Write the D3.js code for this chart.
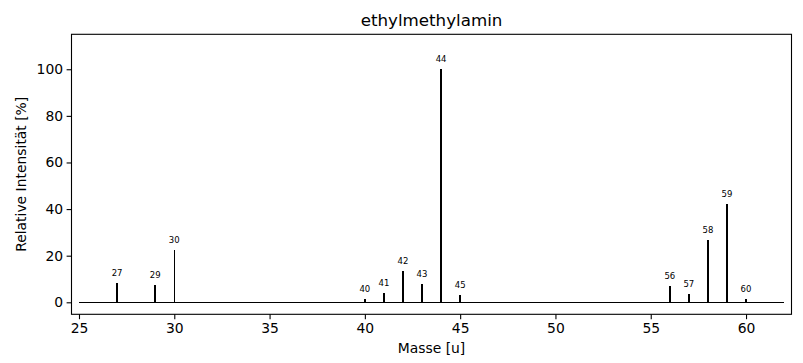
<!DOCTYPE html>
<html>
<head>
<meta charset="utf-8">
<script src="https://cdn.jsdelivr.net/npm/d3@7"></script>
<style>
  body { margin: 0; background: #fff; }
  text { font-family: "DejaVu Sans", sans-serif; fill: #000; }
</style>
</head>
<body>
<svg id="chart" width="803" height="363"></svg>
<script>
const title = "ethylmethylamin";
const xLabel = "Masse [u]";
const yLabel = "Relative Intensität [%]";
const masses = [27, 29, 30, 40, 41, 42, 43, 44, 45, 56, 57, 58, 59, 60];
const intensities = [8.2, 7.3, 22.3, 1.6, 4.0, 13.3, 7.9, 100, 3.0, 6.9, 3.4, 26.6, 42.1, 1.4];
const baselineRange = [25, 62];
const xTicks = [25, 30, 35, 40, 45, 50, 55, 60];
const yTicks = [0, 20, 40, 60, 80, 100];
const xDomain = [24.607, 62.386];
const yDomain = [-5.15, 115];

const svg = d3.select("#chart");
const m = { left: 71.5, top: 34.3, width: 720, height: 280 };
const g = svg.append("g").attr("transform", `translate(${m.left},${m.top})`);

const x = d3.scaleLinear().domain(xDomain).range([0, m.width]);
const y = d3.scaleLinear().domain(yDomain).range([m.height, 0]);

// baseline
g.append("line")
  .attr("x1", x(baselineRange[0])).attr("x2", x(baselineRange[1]))
  .attr("y1", y(0)).attr("y2", y(0))
  .attr("stroke", "#000").attr("stroke-width", 1.5)
  .attr("shape-rendering", "crispEdges");

const data = masses.map((d, i) => ({ m: d, v: intensities[i] }));

g.selectAll("line.peak").data(data).enter().append("line")
  .attr("class", "peak")
  .attr("x1", d => x(d.m)).attr("x2", d => x(d.m))
  .attr("y1", y(0)).attr("y2", d => y(d.v))
  .attr("stroke", "#000").attr("stroke-width", 1.5)
  .attr("shape-rendering", "crispEdges");

g.selectAll("text.lbl").data(data).enter().append("text")
  .attr("class", "lbl")
  .attr("x", d => x(d.m))
  .attr("y", d => y(d.v + 3))
  .attr("text-anchor", "middle")
  .attr("font-size", "8.5px")
  .text(d => d.m);

// axes
const xAxis = d3.axisBottom(x).tickValues(xTicks).tickSize(4.9).tickPadding(3.5).tickSizeOuter(0);
const yAxis = d3.axisLeft(y).tickValues(yTicks).tickSize(4.9).tickPadding(3.5).tickSizeOuter(0);

const gx = g.append("g").attr("transform", `translate(0,${m.height})`).call(xAxis);
const gy = g.append("g").call(yAxis);
[gx, gy].forEach(a => {
  a.select(".domain").remove();
  a.selectAll("line").attr("stroke", "#000").attr("stroke-width", 1.1);
  a.selectAll("text").attr("font-size", "13.9px").attr("font-family", "DejaVu Sans, sans-serif").attr("fill", "#000");
});

// frame
g.append("rect")
  .attr("x", 0).attr("y", 0).attr("width", m.width).attr("height", m.height)
  .attr("fill", "none").attr("stroke", "#000").attr("stroke-width", 1.1);

svg.append("text")
  .attr("x", m.left + m.width / 2).attr("y", 25.5)
  .attr("text-anchor", "middle").attr("font-size", "16.7px")
  .text(title);

svg.append("text")
  .attr("x", m.left + m.width / 2).attr("y", 353)
  .attr("text-anchor", "middle").attr("font-size", "13.9px")
  .text(xLabel);

svg.append("text")
  .attr("transform", `translate(26,${m.top + m.height / 2}) rotate(-90)`)
  .attr("text-anchor", "middle").attr("font-size", "13.9px")
  .text(yLabel);
</script>
</body>
</html>
